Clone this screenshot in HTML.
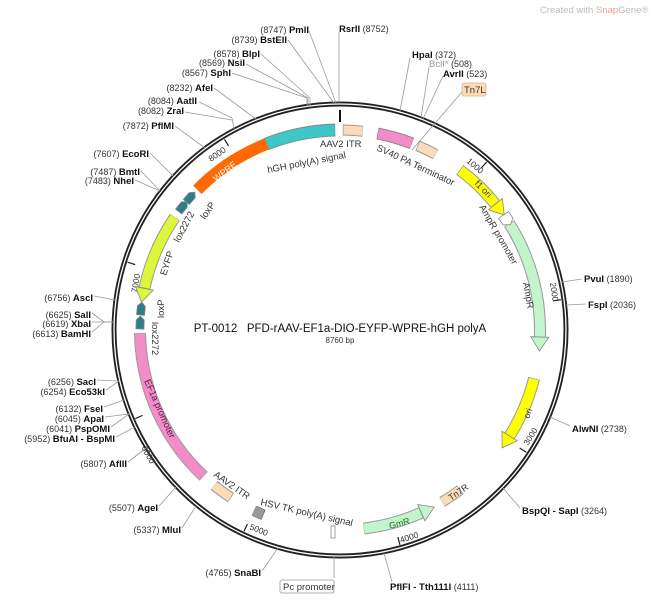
<!DOCTYPE html>
<html><head><meta charset="utf-8"><style>
html,body{margin:0;padding:0;background:#fff;}
svg{display:block;font-family:"Liberation Sans","DejaVu Sans",sans-serif;}
.n{font-size:9px;fill:#333;}
.b{font-size:9.5px;font-weight:bold;fill:#111;}
.f{font-size:9.5px;fill:#333;}
.t{font-size:8.5px;fill:#333;}
.l{stroke:#999;stroke-width:0.8;fill:none;}
</style></head><body>
<svg width="650" height="600" viewBox="0 0 650 600">
<rect width="650" height="600" fill="#fff"/>
<text x="540" y="13" font-size="9.5" fill="#bbb">Created with <tspan fill="#f4a0a0">Snap</tspan>Gene®</text>
<!-- backbone -->
<circle cx="340" cy="330" r="226" fill="none" stroke="#222" stroke-width="5"/>
<circle cx="340" cy="330" r="226" fill="none" stroke="#fff" stroke-width="1.3"/>
<line x1="340" y1="110" x2="340" y2="122" stroke="#111" stroke-width="2"/>
<!-- ticks -->
<g stroke="#222" stroke-width="1.2">
<line x1="340" y1="107" x2="340" y2="115" transform="rotate(41.1 340 330)"/>
<line x1="340" y1="107" x2="340" y2="115" transform="rotate(82.2 340 330)"/>
<line x1="340" y1="107" x2="340" y2="115" transform="rotate(123.3 340 330)"/>
<line x1="340" y1="107" x2="340" y2="115" transform="rotate(164.4 340 330)"/>
<line x1="340" y1="107" x2="340" y2="115" transform="rotate(205.5 340 330)"/>
<line x1="340" y1="107" x2="340" y2="115" transform="rotate(246.6 340 330)"/>
<line x1="340" y1="107" x2="340" y2="115" transform="rotate(287.7 340 330)"/>
<line x1="340" y1="107" x2="340" y2="115" transform="rotate(328.8 340 330)"/>
</g>
<g class="t">
<text transform="translate(466,162) rotate(40)">1000</text>
<text transform="translate(550,283) rotate(82)">2000</text>
<text transform="translate(528,446) rotate(-58)">3000</text>
<text transform="translate(401,543) rotate(-18)">4000</text>
<text transform="translate(249,529) rotate(22)">5000</text>
<text transform="translate(141,448) rotate(60)">6000</text>
<text transform="translate(137,293) rotate(-80)">7000</text>
<text transform="translate(211,162) rotate(-35)">8000</text>
</g>
<!-- features (r=200) -->
<g fill="none" transform="translate(340 330)">
<circle r="200" stroke="#888" stroke-width="13" stroke-dasharray="71 2000" transform="rotate(-111.7)"/>
<circle r="200" stroke="#3cc8c8" stroke-width="11" stroke-dasharray="69.8 2000" transform="rotate(-111.5)"/>
<circle r="200" stroke="#999" stroke-width="11" stroke-dasharray="20 2000" transform="rotate(-89.2)"/>
<circle r="200" stroke="#fcdcb8" stroke-width="9" stroke-dasharray="19 2000" transform="rotate(-89)"/>
<circle r="200" stroke="#888" stroke-width="12" stroke-dasharray="36 2000" transform="rotate(-79.2)"/>
<circle r="200" stroke="#f48cc8" stroke-width="10" stroke-dasharray="35 2000" transform="rotate(-79)"/>
<circle r="200" stroke="#999" stroke-width="11" stroke-dasharray="20 2000" transform="rotate(-67.2)"/>
<circle r="200" stroke="#fcdcb8" stroke-width="9" stroke-dasharray="19 2000" transform="rotate(-67)"/>
<circle r="200" stroke="#999" stroke-width="12" stroke-dasharray="49 2000" transform="rotate(-53.2)"/>
<circle r="200" stroke="#ffff00" stroke-width="10" stroke-dasharray="48 2000" transform="rotate(-53)"/>
<circle r="200" stroke="#999" stroke-width="12" stroke-dasharray="121 2000" transform="rotate(-32.2)"/>
<circle r="200" stroke="#c2f5cc" stroke-width="10" stroke-dasharray="120 2000" transform="rotate(-32)"/>
<circle r="200" stroke="#999" stroke-width="12" stroke-dasharray="64 2000" transform="rotate(14)"/>
<circle r="200" stroke="#ffff00" stroke-width="10" stroke-dasharray="63 2000" transform="rotate(14.2)"/>
<circle r="200" stroke="#999" stroke-width="11" stroke-dasharray="22 2000" transform="rotate(53)"/>
<circle r="200" stroke="#fcdcb8" stroke-width="9" stroke-dasharray="21 2000" transform="rotate(53.2)"/>
<circle r="200" stroke="#999" stroke-width="12" stroke-dasharray="60 2000" transform="rotate(66)"/>
<circle r="200" stroke="#c2f5cc" stroke-width="10" stroke-dasharray="59 2000" transform="rotate(66.2)"/>
<circle r="200" stroke="#666" stroke-width="11" stroke-dasharray="10 2000" transform="rotate(112.5)"/>
<circle r="200" stroke="#999" stroke-width="10" stroke-dasharray="10 2000" transform="rotate(112.7)"/>
<circle r="200" stroke="#999" stroke-width="11" stroke-dasharray="21 2000" transform="rotate(123)"/>
<circle r="200" stroke="#fcdcb8" stroke-width="9" stroke-dasharray="20 2000" transform="rotate(123.2)"/>
<circle r="200" stroke="#999" stroke-width="12" stroke-dasharray="161 2000" transform="rotate(133)"/>
<circle r="200" stroke="#f48cc8" stroke-width="10" stroke-dasharray="160 2000" transform="rotate(133.2)"/>
<circle r="200" stroke="#999" stroke-width="12" stroke-dasharray="78 2000" transform="rotate(192)"/>
<circle r="200" stroke="#ddf53a" stroke-width="10" stroke-dasharray="77 2000" transform="rotate(192.2)"/>
<circle r="200" stroke="#ff6a00" stroke-width="12" stroke-dasharray="84 2000" transform="rotate(224.5)"/>
</g>
<!-- arrowheads -->
<g stroke="#888" stroke-width="0.8">
<polygon points="340,121 340,139 354,130" fill="#ffff00" transform="rotate(51 340 330)"/>
<polygon points="340,121 340,139 354,130" fill="#c2f5cc" transform="rotate(92 340 330)"/>
<polygon points="340,121 340,139 354,130" fill="#ffff00" transform="rotate(122 340 330)"/>
<polygon points="340,121 340,139 326,130" fill="#c2f5cc" transform="rotate(156 340 330)"/>
<polygon points="340,121 340,139 326,130" fill="#ddf53a" transform="rotate(-78 340 330)"/>
<polygon points="336,124 336,136 344,136 348,130 344,124" fill="#fff" transform="rotate(56 340 330)"/>
<polygon points="334,126 334,134 343,134 347,130 343,126" fill="#2e7d8c" transform="rotate(-52 340 330)"/>
<polygon points="334,126 334,134 343,134 347,130 343,126" fill="#2e7d8c" transform="rotate(-48.5 340 330)"/>
<polygon points="334,126 334,134 343,134 347,130 343,126" fill="#2e7d8c" transform="rotate(-84 340 330)"/>
<polygon points="334,126 334,134 343,134 347,130 343,126" fill="#2e7d8c" transform="rotate(-88 340 330)"/>
<rect x="331" y="526" width="4" height="12" fill="#fff"/>
</g>
<!-- feature labels -->
<g class="f">
<text x="320" y="147">AAV2 ITR</text>
<text transform="translate(268,173) rotate(-11)">hGH poly(A) signal</text>
<text transform="translate(376,150) rotate(25)">SV40 PA Terminator</text>
<text transform="translate(474,184) rotate(45)" font-size="9">f1 ori</text>
<text transform="translate(479,207) rotate(60)">AmpR promoter</text>
<text transform="translate(523,283) rotate(80)">AmpR</text>
<text transform="translate(529,419) rotate(-70)" font-size="9">ori</text>
<text transform="translate(451,501) rotate(-35)" font-size="9">Tn7R</text>
<text transform="translate(390,529) rotate(-15)" font-size="9" fill="#2a6a2a">GmR</text>
<text transform="translate(260,505) rotate(13)">HSV TK poly(A) signal</text>
<text transform="translate(213,476) rotate(35)">AAV2 ITR</text>
<text transform="translate(144,381) rotate(66)" fill="#552244">EF1a promoter</text>
<text transform="translate(152,322) rotate(90)">lox2272</text>
<text transform="translate(164,318) rotate(-90)">loxP</text>
<text transform="translate(166,276) rotate(-72)">EYFP</text>
<text transform="translate(179,243) rotate(-62)">lox2272</text>
<text transform="translate(205,220) rotate(-55)">loxP</text>
<text transform="translate(216,182) rotate(-38)" fill="#fff" font-size="9">WPRE</text>
</g>
<!-- center title -->
<text x="340" y="332" text-anchor="middle" font-size="11.5" fill="#111">PT-0012&#160;&#160;&#160;PFD-rAAV-EF1a-DIO-EYFP-WPRE-hGH polyA</text>
<text x="340" y="343" text-anchor="middle" font-size="8" fill="#333">8760 bp</text>
<!-- leader lines -->
<g class="l">
<polyline points="309,31 336,103"/>
<polyline points="288,40 334,103"/>
<polyline points="261,54 310,98 310,105"/>
<polyline points="246,64 308,98 308,105"/>
<polyline points="232,73 307,98 307,105"/>
<polyline points="214,88 256,119"/>
<polyline points="199,102 232,118 234,129"/>
<polyline points="185,112 232,120"/>
<polyline points="175,126 205,148"/>
<polyline points="339,32 339,103"/>
<polyline points="410,58 400,111"/>
<polyline points="429,67 421,118"/>
<polyline points="443,76 423,119"/>
<polyline points="462,92 412,150"/>
<polyline points="150,153 173,176"/>
<polyline points="141,171 160,191"/>
<polyline points="135,180 160,191"/>
<polyline points="94,296 115,300"/>
<polyline points="92,313 104,322 113,322"/>
<polyline points="92,322 113,322"/>
<polyline points="92,332 104,322"/>
<polyline points="97,380 119,381"/>
<polyline points="106,390 119,381"/>
<polyline points="104,407 124,400"/>
<polyline points="105,417 129,414"/>
<polyline points="111,427 129,414"/>
<polyline points="116,437 135,427"/>
<polyline points="128,462 146,448"/>
<polyline points="159,506 176,487"/>
<polyline points="182,528 196,506"/>
<polyline points="262,571 278,548"/>
<polyline points="334,578 334,556"/>
<polyline points="392,582 384,553"/>
<polyline points="520,508 503,488"/>
<polyline points="570,426 550,417"/>
<polyline points="586,304 566,305"/>
<polyline points="582,279 562,282"/>
</g>
<!-- enzyme labels -->
<g>
<text x="309" y="33" text-anchor="end"><tspan class="n">(8747)  </tspan><tspan class="b">PmlI</tspan></text>
<text x="287" y="43" text-anchor="end"><tspan class="n">(8739)  </tspan><tspan class="b">BstEII</tspan></text>
<text x="260" y="57" text-anchor="end"><tspan class="n">(8578)  </tspan><tspan class="b">BlpI</tspan></text>
<text x="245" y="66" text-anchor="end"><tspan class="n">(8569)  </tspan><tspan class="b">NsiI</tspan></text>
<text x="231" y="76" text-anchor="end"><tspan class="n">(8567)  </tspan><tspan class="b">SphI</tspan></text>
<text x="213" y="91" text-anchor="end"><tspan class="n">(8232)  </tspan><tspan class="b">AfeI</tspan></text>
<text x="197" y="104" text-anchor="end"><tspan class="n">(8084)  </tspan><tspan class="b">AatII</tspan></text>
<text x="184" y="114" text-anchor="end"><tspan class="n">(8082)  </tspan><tspan class="b">ZraI</tspan></text>
<text x="174" y="129" text-anchor="end"><tspan class="n">(7872)  </tspan><tspan class="b">PflMI</tspan></text>
<text x="339" y="32"><tspan class="b">RsrII</tspan><tspan class="n">  (8752)</tspan></text>
<text x="412" y="58"><tspan class="b">HpaI</tspan><tspan class="n">  (372)</tspan></text>
<text x="429" y="67"><tspan class="b" style="fill:#999;font-weight:normal">BclI*</tspan><tspan class="n">  (508)</tspan></text>
<text x="443" y="77"><tspan class="b">AvrII</tspan><tspan class="n">  (523)</tspan></text>
<rect x="462" y="83" width="24" height="13" rx="2" fill="#fcdcb8" stroke="#d9b48a" stroke-width="0.8"/>
<text x="464" y="93" class="f">Tn7L</text>
<text x="149" y="157" text-anchor="end"><tspan class="n">(7607)  </tspan><tspan class="b">EcoRI</tspan></text>
<text x="140" y="175" text-anchor="end"><tspan class="n">(7487)  </tspan><tspan class="b">BmtI</tspan></text>
<text x="134" y="184" text-anchor="end"><tspan class="n">(7483)  </tspan><tspan class="b">NheI</tspan></text>
<text x="93" y="301" text-anchor="end"><tspan class="n">(6756)  </tspan><tspan class="b">AscI</tspan></text>
<text x="91" y="318" text-anchor="end"><tspan class="n">(6625)  </tspan><tspan class="b">SalI</tspan></text>
<text x="91" y="327" text-anchor="end"><tspan class="n">(6619)  </tspan><tspan class="b">XbaI</tspan></text>
<text x="91" y="337" text-anchor="end"><tspan class="n">(6613)  </tspan><tspan class="b">BamHI</tspan></text>
<text x="96" y="385" text-anchor="end"><tspan class="n">(6256)  </tspan><tspan class="b">SacI</tspan></text>
<text x="105" y="395" text-anchor="end"><tspan class="n">(6254)  </tspan><tspan class="b">Eco53kI</tspan></text>
<text x="103" y="412" text-anchor="end"><tspan class="n">(6132)  </tspan><tspan class="b">FseI</tspan></text>
<text x="104" y="422" text-anchor="end"><tspan class="n">(6045)  </tspan><tspan class="b">ApaI</tspan></text>
<text x="110" y="432" text-anchor="end"><tspan class="n">(6041)  </tspan><tspan class="b">PspOMI</tspan></text>
<text x="115" y="442" text-anchor="end"><tspan class="n">(5952)  </tspan><tspan class="b">BfuAI - BspMI</tspan></text>
<text x="127" y="467" text-anchor="end"><tspan class="n">(5807)  </tspan><tspan class="b">AflII</tspan></text>
<text x="158" y="511" text-anchor="end"><tspan class="n">(5507)  </tspan><tspan class="b">AgeI</tspan></text>
<text x="181" y="533" text-anchor="end"><tspan class="n">(5337)  </tspan><tspan class="b">MluI</tspan></text>
<text x="261" y="576" text-anchor="end"><tspan class="n">(4765)  </tspan><tspan class="b">SnaBI</tspan></text>
<rect x="280" y="580" width="54" height="13" rx="2" fill="#fff" stroke="#999" stroke-width="0.8"/>
<text x="283" y="590" class="f">Pc promoter</text>
<text x="390" y="590"><tspan class="b">PflFI - Tth111I</tspan><tspan class="n">  (4111)</tspan></text>
<text x="522" y="514"><tspan class="b">BspQI - SapI</tspan><tspan class="n">  (3264)</tspan></text>
<text x="572" y="432"><tspan class="b">AlwNI</tspan><tspan class="n">  (2738)</tspan></text>
<text x="588" y="308"><tspan class="b">FspI</tspan><tspan class="n">  (2036)</tspan></text>
<text x="584" y="282"><tspan class="b">PvuI</tspan><tspan class="n">  (1890)</tspan></text>
</g>
</svg>
</body></html>
